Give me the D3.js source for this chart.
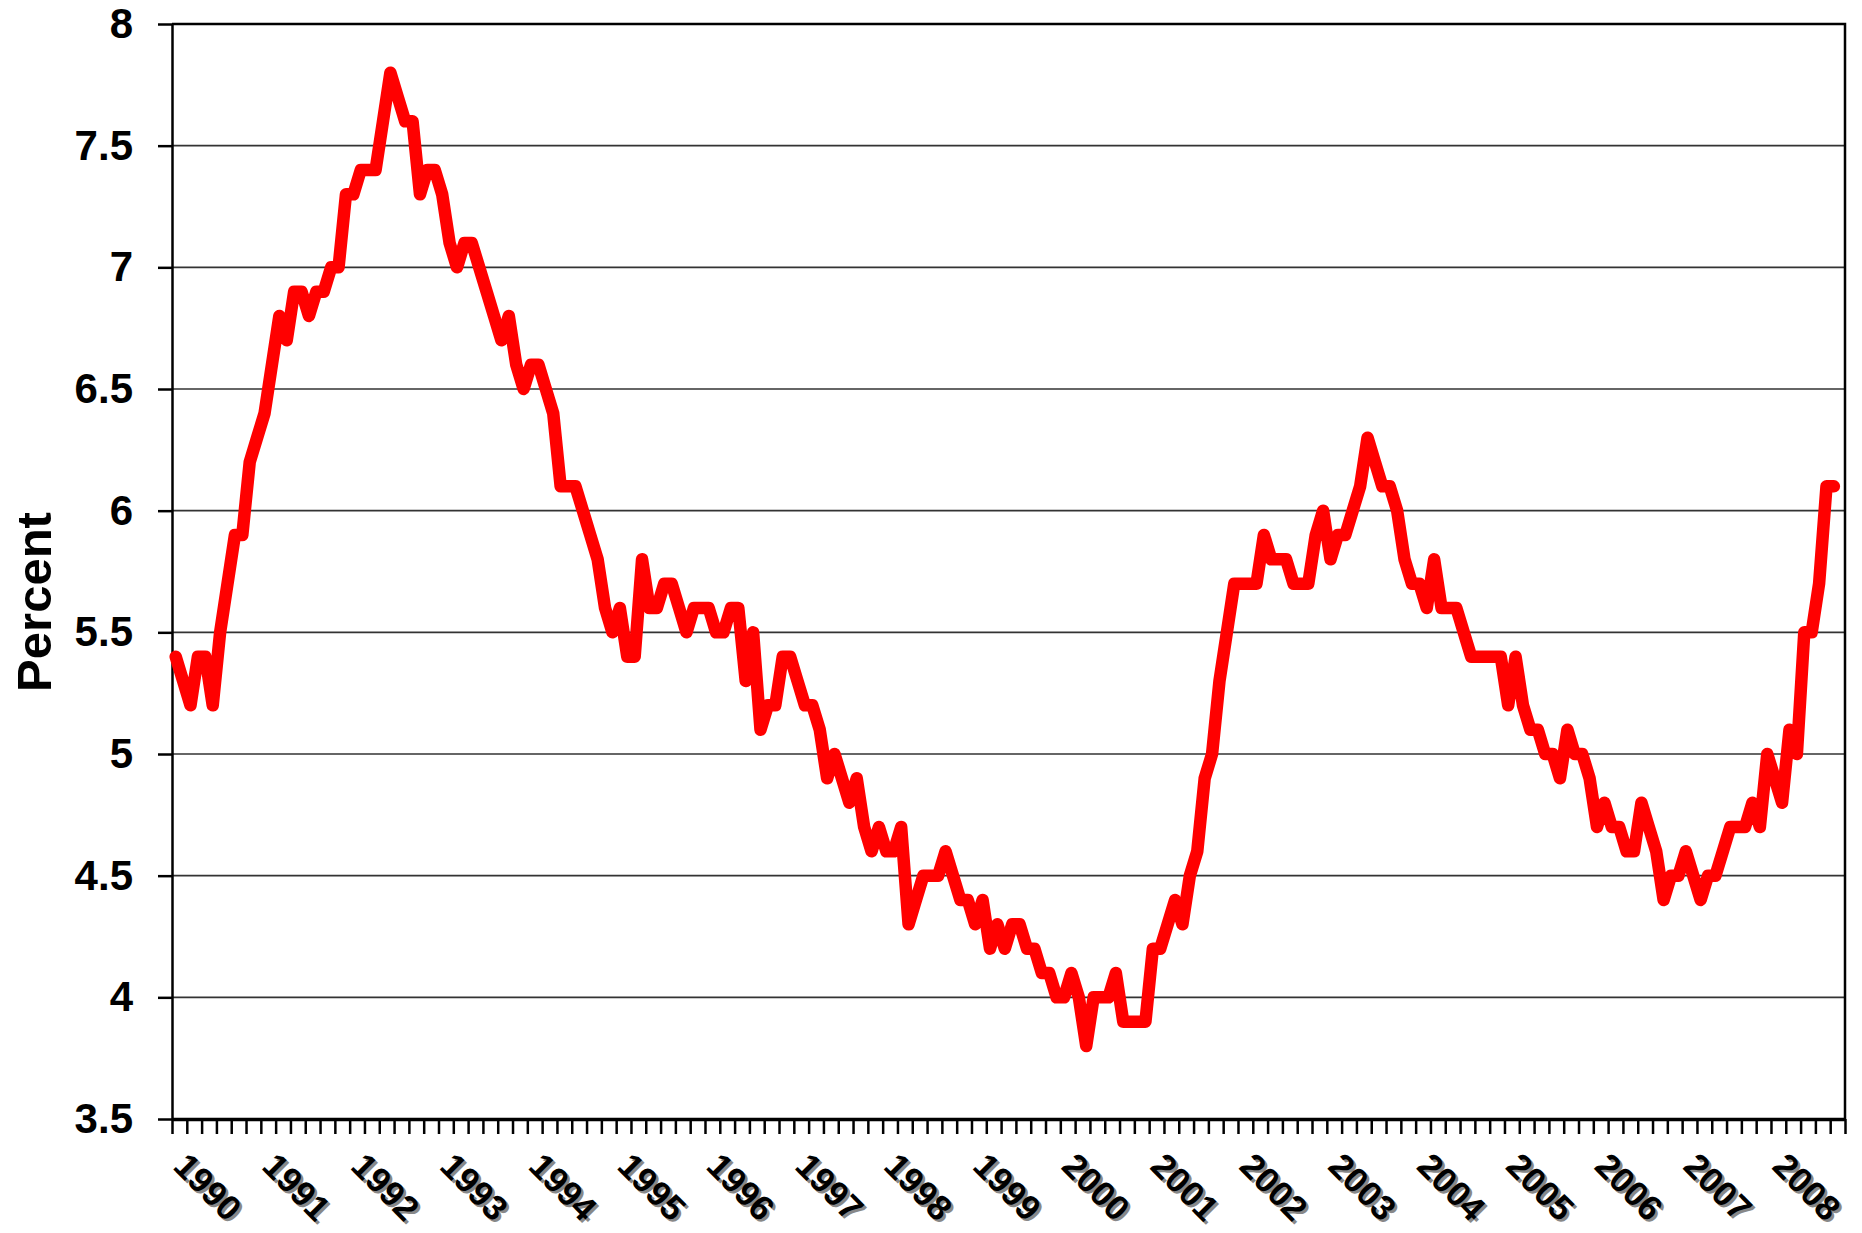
<!DOCTYPE html>
<html>
<head>
<meta charset="utf-8">
<script src="https://cdn.jsdelivr.net/npm/d3@7/dist/d3.min.js"></script>
<style>
  body { margin: 0; background: #fff; }
  text { font-family: "Liberation Sans", Arial, sans-serif; font-weight: bold; }
</style>
</head>
<body>
<div class="svg-container"></div>
<script>
// monthly unemployment rate, Jan..Dec of each year (2008 ends in Sep)
const years = ["1990","1991","1992","1993","1994","1995","1996","1997","1998","1999",
               "2000","2001","2002","2003","2004","2005","2006","2007","2008"];
const r1990 = [5.4, 5.3, 5.2, 5.4, 5.4, 5.2, 5.5, 5.7, 5.9, 5.9, 6.2, 6.3];
const r1991 = [6.4, 6.6, 6.8, 6.7, 6.9, 6.9, 6.8, 6.9, 6.9, 7.0, 7.0, 7.3];
const r1992 = [7.3, 7.4, 7.4, 7.4, 7.6, 7.8, 7.7, 7.6, 7.6, 7.3, 7.4, 7.4];
const r1993 = [7.3, 7.1, 7.0, 7.1, 7.1, 7.0, 6.9, 6.8, 6.7, 6.8, 6.6, 6.5];
const r1994 = [6.6, 6.6, 6.5, 6.4, 6.1, 6.1, 6.1, 6.0, 5.9, 5.8, 5.6, 5.5];
const r1995 = [5.6, 5.4, 5.4, 5.8, 5.6, 5.6, 5.7, 5.7, 5.6, 5.5, 5.6, 5.6];
const r1996 = [5.6, 5.5, 5.5, 5.6, 5.6, 5.3, 5.5, 5.1, 5.2, 5.2, 5.4, 5.4];
const r1997 = [5.3, 5.2, 5.2, 5.1, 4.9, 5.0, 4.9, 4.8, 4.9, 4.7, 4.6, 4.7];
const r1998 = [4.6, 4.6, 4.7, 4.3, 4.4, 4.5, 4.5, 4.5, 4.6, 4.5, 4.4, 4.4];
const r1999 = [4.3, 4.4, 4.2, 4.3, 4.2, 4.3, 4.3, 4.2, 4.2, 4.1, 4.1, 4.0];
const r2000 = [4.0, 4.1, 4.0, 3.8, 4.0, 4.0, 4.0, 4.1, 3.9, 3.9, 3.9, 3.9];
const r2001 = [4.2, 4.2, 4.3, 4.4, 4.3, 4.5, 4.6, 4.9, 5.0, 5.3, 5.5, 5.7];
const r2002 = [5.7, 5.7, 5.7, 5.9, 5.8, 5.8, 5.8, 5.7, 5.7, 5.7, 5.9, 6.0];
const r2003 = [5.8, 5.9, 5.9, 6.0, 6.1, 6.3, 6.2, 6.1, 6.1, 6.0, 5.8, 5.7];
const r2004 = [5.7, 5.6, 5.8, 5.6, 5.6, 5.6, 5.5, 5.4, 5.4, 5.4, 5.4, 5.4];
const r2005 = [5.2, 5.4, 5.2, 5.1, 5.1, 5.0, 5.0, 4.9, 5.1, 5.0, 5.0, 4.9];
const r2006 = [4.7, 4.8, 4.7, 4.7, 4.6, 4.6, 4.8, 4.7, 4.6, 4.4, 4.5, 4.5];
const r2007 = [4.6, 4.5, 4.4, 4.5, 4.5, 4.6, 4.7, 4.7, 4.7, 4.8, 4.7, 5.0];
const r2008 = [4.9, 4.8, 5.1, 5.0, 5.5, 5.5, 5.7, 6.1, 6.1];

const yTicks = [3.5, 4, 4.5, 5, 5.5, 6, 6.5, 7, 7.5, 8];

const rates = [].concat(r1990, r1991, r1992, r1993, r1994, r1995, r1996, r1997, r1998, r1999,
                        r2000, r2001, r2002, r2003, r2004, r2005, r2006, r2007, r2008);
const slots = rates.length + 1;   // category axis has one empty slot at the end

const width = 1862, height = 1233;
const margin = {top: 24, right: 17, bottom: 114, left: 172};
const plotW = width - margin.left - margin.right;
const plotH = height - margin.top - margin.bottom;

const svg = d3.select(".svg-container").append("svg")
  .attr("width", width)
  .attr("height", height)
  .style("background", "#fff");

const x = d3.scaleLinear().domain([0, slots]).range([margin.left, margin.left + plotW]);
const y = d3.scaleLinear().domain([3.5, 8]).range([margin.top + plotH, margin.top]);

// horizontal gridlines
svg.append("g")
  .selectAll("line")
  .data(yTicks.filter(v => v > 3.5 && v < 8))
  .join("line")
  .attr("x1", x(0)).attr("x2", x(slots))
  .attr("y1", d => y(d)).attr("y2", d => y(d))
  .style("stroke", "#333")
  .style("stroke-width", 1.6);

// top and right border of the plot
svg.append("path")
  .attr("d", `M${x(0)},${y(8)}H${x(slots)}V${y(3.5)}`)
  .style("fill", "none")
  .style("stroke", "#000")
  .style("stroke-width", 2.5);

// y axis
const yAxis = d3.axisLeft(y)
  .tickValues(yTicks)
  .tickSize(14)
  .tickSizeOuter(0)
  .tickPadding(25)
  .tickFormat(d => String(+d.toFixed(1)));

const gy = svg.append("g")
  .attr("transform", `translate(${margin.left},0)`)
  .call(yAxis);
gy.select(".domain").style("stroke-width", 2.5);
gy.selectAll(".tick line").style("stroke-width", 2.5);
gy.selectAll("text")
  .style("font-size", "42px")
  .style("font-family", "'Liberation Sans', Arial, sans-serif")
  .style("font-weight", "bold")
  .attr("fill", "#000");

// x axis: tick every second month, no labels here
const xAxis = d3.axisBottom(x)
  .tickValues(d3.range(0, slots + 1, 2))
  .tickSize(15)
  .tickSizeOuter(0)
  .tickFormat("");

const gx = svg.append("g")
  .attr("transform", `translate(0,${y(3.5)})`)
  .call(xAxis);
gx.select(".domain").style("stroke-width", 3.5);
gx.selectAll(".tick line").style("stroke-width", 2.5);

// year labels, rotated, with a grey drop shadow
const yearLabels = svg.append("g");
years.forEach((yr, k) => {
  const ax = x(12 * k + 0.5) - 4;
  const ay = 1168;
  yearLabels.append("text")
    .attr("transform", `translate(${ax + 2.5},${ay + 2.5}) rotate(45)`)
    .style("font-size", "35px")
    .attr("fill", "#888")
    .text(yr);
  yearLabels.append("text")
    .attr("transform", `translate(${ax},${ay}) rotate(45)`)
    .style("font-size", "35px")
    .attr("fill", "#000")
    .text(yr);
});

// axis title
svg.append("text")
  .attr("transform", "translate(51,602) rotate(-90)")
  .style("text-anchor", "middle")
  .style("font-size", "49px")
  .attr("fill", "#000")
  .text("Percent");

// the series
const line = d3.line()
  .x((d, i) => x(i + 0.5))
  .y(d => y(d));

svg.append("path")
  .datum(rates)
  .attr("d", line)
  .style("fill", "none")
  .style("stroke", "#ff0000")
  .style("stroke-width", 12.5)
  .style("stroke-linejoin", "round")
  .style("stroke-linecap", "round");
</script>
</body>
</html>
